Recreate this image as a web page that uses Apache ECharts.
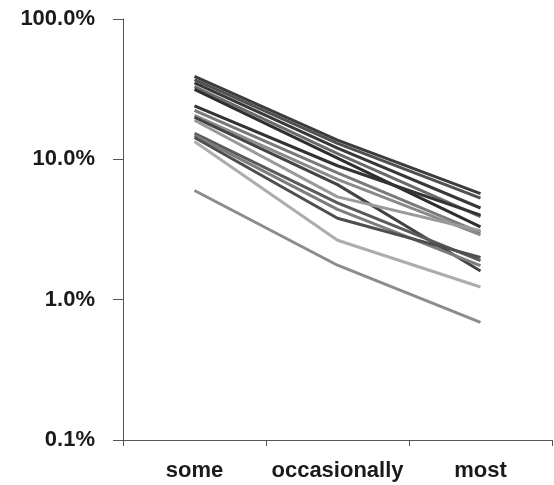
<!DOCTYPE html>
<html>
<head>
<meta charset="utf-8">
<script src="https://cdn.jsdelivr.net/npm/echarts@6/dist/echarts.min.js"></script>
<style>html,body{margin:0;padding:0;background:#fff;}#c{width:554px;height:485px;}</style>
</head>
<body>
<div id="c"></div>
<script>
const categories = ['some', 'occasionally', 'most'];
const yTicks = [0.1, 1, 10, 100];
const s1 = [39, 13.7, 5.7];
const s2 = [37, 13.0, 5.3];
const s3 = [35, 12.0, 4.5];
const s4 = [33, 11.0, 3.9];
const s5 = [31.5, 10.2, 3.3];
const s6 = [24, 9.0, 4.0];
const s7 = [22.3, 8.0, 3.0];
const s8 = [20.6, 7.2, 2.9];
const s9 = [19.9, 6.6, 1.6];
const s10 = [19, 5.4, 3.1];
const s11 = [15.3, 4.9, 1.9];
const s12 = [14.8, 4.4, 1.75];
const s13 = [14.3, 3.8, 2.0];
const s14 = [13.4, 2.65, 1.23];
const s15 = [6.0, 1.76, 0.69];
const seriesData = [s1, s2, s3, s4, s5, s6, s7, s8, s9, s10, s11, s12, s13, s14, s15];
const colors = ['#3c3c3c', '#505050', '#383838', '#6a6a6a', '#2e2e2e', '#333333', '#7a7a7a',
                '#8a8a8a', '#444444', '#9a9a9a', '#5a5a5a', '#7c7c7c', '#4e4e4e', '#adadad', '#8c8c8c'];

const chart = echarts.init(document.getElementById('c'));
chart.setOption({
  animation: false,
  grid: { left: 123, right: 2, top: 19, bottom: 45 },
  xAxis: {
    type: 'category',
    data: categories,
    boundaryGap: true,
    axisLine: { lineStyle: { color: '#555', width: 1 } },
    axisTick: { show: true, length: 6, lineStyle: { color: '#555' } },
    axisLabel: { color: '#1a1a1a', fontFamily: 'Liberation Sans', fontSize: 22, fontWeight: 'bold', margin: 20,
                 interval: 0, hideOverlap: false },
    splitLine: { show: false }
  },
  yAxis: {
    type: 'log',
    logBase: 10,
    min: yTicks[0],
    max: yTicks[yTicks.length - 1],
    axisLine: { show: true, lineStyle: { color: '#555', width: 1 } },
    axisTick: { show: true, length: 10, lineStyle: { color: '#555' } },
    axisLabel: {
      color: '#1a1a1a', fontFamily: 'Liberation Sans', fontSize: 22, fontWeight: 'bold', margin: 28,
      formatter: v => v.toFixed(1) + '%'
    },
    splitLine: { show: false },
    minorTick: { show: false }
  },
  series: seriesData.map((d, i) => ({
    type: 'line',
    data: d,
    symbol: 'none',
    lineStyle: { color: colors[i], width: 3 },
    z: 2
  }))
});
</script>
</body>
</html>
